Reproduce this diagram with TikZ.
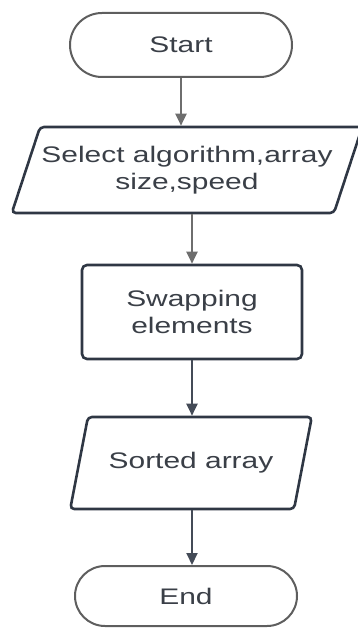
\documentclass[tikz,border=0pt]{standalone}
\usepackage{fontspec}
\newfontfamily\flowfont{Liberation Sans}[FakeStretch=1.33]
\usetikzlibrary{shapes.geometric,shapes.misc,arrows.meta}
\definecolor{termgray}{HTML}{5E5E5E}
\definecolor{boxslate}{HTML}{2F3744}
\definecolor{txtgray}{HTML}{3A3F47}
\begin{document}
\begin{tikzpicture}[x=1pt,y=-1pt]
  \tikzset{every node/.style={align=center,font=\flowfont\fontsize{22.5}{27.5}\selectfont,text=txtgray},
    term/.style={rounded rectangle,draw=termgray,line width=2pt,minimum width=222pt,minimum height=64pt,inner sep=0pt},
    iobox/.style={trapezium,trapezium stretches=true,draw=boxslate,line width=2.6pt,rounded corners=4pt,inner sep=0pt},
    procbox/.style={rectangle,draw=boxslate,line width=2.6pt,rounded corners=5pt,minimum width=220pt,minimum height=94pt,inner sep=0pt},
    arr/.style={line width=2pt,-{Triangle[width=11pt,length=12pt]}}}
  \useasboundingbox (0,0) rectangle (357,628);
  \node [term] (start) at (181,45) {Start};
  \node [iobox,trapezium left angle=60,trapezium right angle=120,minimum width=352pt,minimum height=86pt] (select) at (187,170) {Select algorithm,array\\size,speed};
  \node [procbox] (swap) at (192,312) {Swapping\\elements};
  \node [iobox,trapezium left angle=56,trapezium right angle=124,minimum width=242pt,minimum height=92pt] (sorted) at (191,463) {Sorted array};
  \node [term,minimum height=60pt] (end) at (186,596) {End};
  \draw [arr,color=termgray!90] (start.south) -- (start.south |- select.north);
  \draw [arr,color=termgray!90] (select.south -| swap.north) -- (swap.north);
  \draw [arr,color=boxslate!90] (swap.south) -- (swap.south |- sorted.north);
  \draw [arr,color=boxslate!90] (sorted.south -| swap.south) -- (swap.south |- end.north);
\end{tikzpicture}
\end{document}
